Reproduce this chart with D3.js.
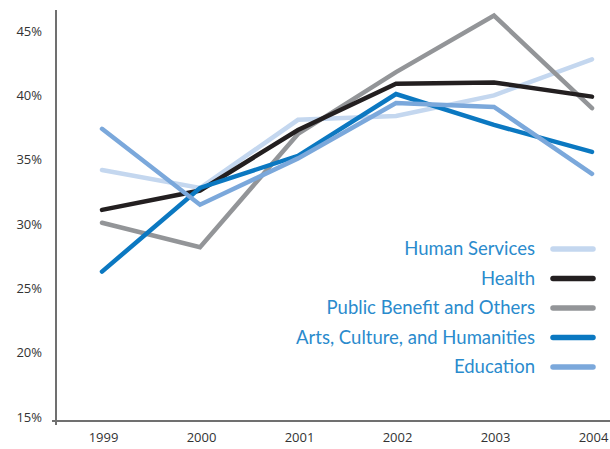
<!DOCTYPE html>
<html>
<head>
<meta charset="utf-8">
<script src="https://cdn.jsdelivr.net/npm/d3@7"></script>
<style>
  body { margin: 0; background: #fff; }
  .tick text { font-family: "Open Sans", sans-serif; font-size: 13px; fill: #333; }
  .legend text { font-family: Lato, sans-serif; font-size: 18.5px; fill: #2a8bcd; }
</style>
</head>
<body>
<div class="chart"></div>
<script>
var years = ['1999', '2000', '2001', '2002', '2003', '2004'];
var yTicks = [15, 20, 25, 30, 35, 40, 45];

var seriesNames = ['Human Services', 'Health', 'Public Benefit and Others', 'Arts, Culture, and Humanities', 'Education'];
var humanServices = [34.2, 32.8, 38.1, 38.4, 40.0, 42.8];
var health        = [31.1, 32.6, 37.3, 40.9, 41.0, 39.9];
var publicBenefit = [30.1, 28.2, 37.0, 41.8, 46.2, 39.0];
var arts          = [26.3, 32.8, 35.3, 40.1, 37.7, 35.6];
var education     = [37.4, 31.5, 35.1, 39.4, 39.1, 33.9];
var colors = ['#c4d7ef', '#231f20', '#939598', '#0b78c1', '#7ba8db'];

var size = { width: 610, height: 449 };

var svg = d3.select('.chart')
            .append('svg')
            .attr('width', size.width)
            .attr('height', size.height);

var x = d3.scalePoint().domain(years).range([102, 592]);
var y = d3.scaleLinear().domain([15, 45]).range([417, 31]);

// draw order: light first so dark lines sit on top like the original
var series = [
  { name: seriesNames[0], values: humanServices, color: colors[0] },
  { name: seriesNames[2], values: publicBenefit, color: colors[2] },
  { name: seriesNames[1], values: health, color: colors[1] },
  { name: seriesNames[3], values: arts, color: colors[3] },
  { name: seriesNames[4], values: education, color: colors[4] }
];

var line = d3.line()
  .x(function(d, i){ return x(years[i]); })
  .y(function(d){ return y(d); });

svg.selectAll('path.series')
   .data(series)
   .enter()
   .append('path')
   .attr('class', 'series')
   .attr('d', function(d){ return line(d.values); })
   .attr('fill', 'none')
   .attr('stroke', function(d){ return d.color; })
   .attr('stroke-width', 4.5)
   .attr('stroke-linejoin', 'miter')
   .attr('stroke-linecap', 'round');

// axes
var axisColor = '#707070';
svg.append('line')
   .attr('x1', 56).attr('x2', 56).attr('y1', 10).attr('y2', 425)
   .attr('stroke', axisColor).attr('stroke-width', 2);
svg.append('line')
   .attr('x1', 52).attr('x2', 610).attr('y1', 421).attr('y2', 421)
   .attr('stroke', axisColor).attr('stroke-width', 2);

var yAxis = d3.axisLeft(y)
  .tickValues(yTicks)
  .tickSize(0)
  .tickPadding(0)
  .tickFormat(function(d){ return d + '%'; });

svg.append('g')
   .attr('transform', 'translate(42,0)')
   .call(yAxis)
   .call(function(g){ g.select('.domain').remove(); });

var xAxis = d3.axisBottom(x).tickSize(0).tickPadding(0);
svg.append('g')
   .attr('transform', 'translate(1,433)')
   .call(xAxis)
   .call(function(g){ g.select('.domain').remove(); });

// legend
var legendOrder = [0, 1, 2, 3, 4];
var legend = svg.append('g').attr('class', 'legend');
var rows = legend.selectAll('g')
  .data(legendOrder)
  .enter()
  .append('g')
  .attr('transform', function(d, i){ return 'translate(0,' + (249 + i * 29.5) + ')'; });

rows.append('text')
    .attr('x', 535)
    .attr('dy', '0.35em')
    .attr('text-anchor', 'end')
    .text(function(d){ return seriesNames[d]; });

rows.append('line')
    .attr('x1', 553).attr('x2', 593)
    .attr('stroke', function(d){ return colors[d]; })
    .attr('stroke-width', 5.5)
    .attr('stroke-linecap', 'round');
</script>
</body>
</html>
